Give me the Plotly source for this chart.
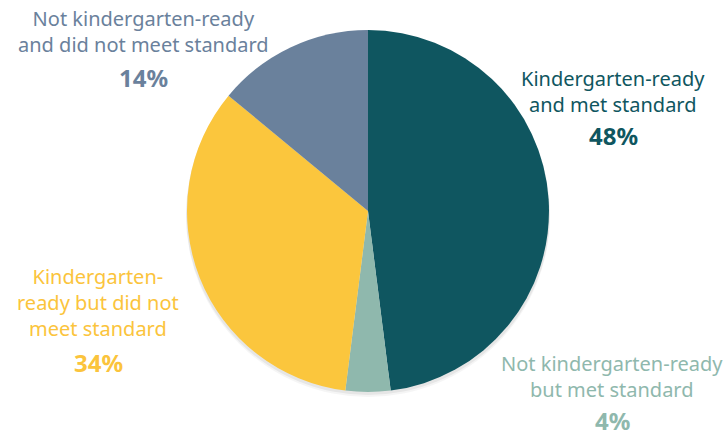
import plotly.graph_objects as go

W, H = 727, 437

categories = [
    "Kindergarten-ready<br>and met standard",
    "Not kindergarten-ready<br>but met standard",
    "Kindergarten-<br>ready but did not<br>meet standard",
    "Not kindergarten-ready<br>and did not meet standard",
]
values = [48, 4, 34, 14]
colors = ["#0f5660", "#8fb8ad", "#fbc63d", "#6a819c"]
text_colors = ["#0f5660", "#8fb8ad", "#fbc43c", "#6a819c"]

# label block centre (px) and percent centre y (px), same order as categories
label_px = [(613, 91), (612, 376), (98, 302), (143, 32)]
pct_y_px = [135, 420, 362, 78]

FONT = "Noto Sans"

# pie geometry in px (centre + radius)
cx, cy, r = 368, 211, 181


def px(x, y):
    return x / W, 1 - y / H


fig = go.Figure()
fig.add_trace(go.Pie(
    labels=categories,
    values=values,
    marker=dict(colors=colors, line=dict(width=0)),
    textinfo="none",
    sort=False,
    direction="clockwise",
    rotation=0,
    hoverinfo="label+percent",
    showlegend=False,
    domain=dict(x=[(cx - r) / W, (cx + r) / W],
                y=[1 - (cy + r) / H, 1 - (cy - r) / H]),
))

# faint shadow peeking out under the pie
for dy, op in [(5, 0.04), (3, 0.06)]:
    fig.add_shape(
        type="circle", xref="paper", yref="paper", layer="below",
        x0=(cx - r - 1) / W, x1=(cx + r + 1) / W,
        y0=1 - (cy + r + dy) / H, y1=1 - (cy - r + dy) / H,
        fillcolor=f"rgba(0,0,0,{op})", line=dict(width=0),
    )

for cat, val, col, (x, y), py in zip(categories, values, text_colors, label_px, pct_y_px):
    ax, ay = px(x, y)
    fig.add_annotation(
        x=ax, y=ay, xref="paper", yref="paper",
        xanchor="center", yanchor="middle", showarrow=False, align="center",
        text=cat, font=dict(family=FONT, size=20, color=col),
    )
    ax, ay = px(x, py)
    fig.add_annotation(
        x=ax, y=ay, xref="paper", yref="paper",
        xanchor="center", yanchor="middle", showarrow=False,
        text=f"<b>{val}%</b>", font=dict(family=FONT, size=24, color=col),
    )

fig.update_layout(
    width=W, height=H,
    margin=dict(l=0, r=0, t=0, b=0),
    paper_bgcolor="white",
    plot_bgcolor="white",
)

# drop the browser's default 8px body margin so the figure fills the window
fig.write_html(
    "out.html",
    config={"displayModeBar": False},
    post_script="document.body.style.margin='0';",
)
